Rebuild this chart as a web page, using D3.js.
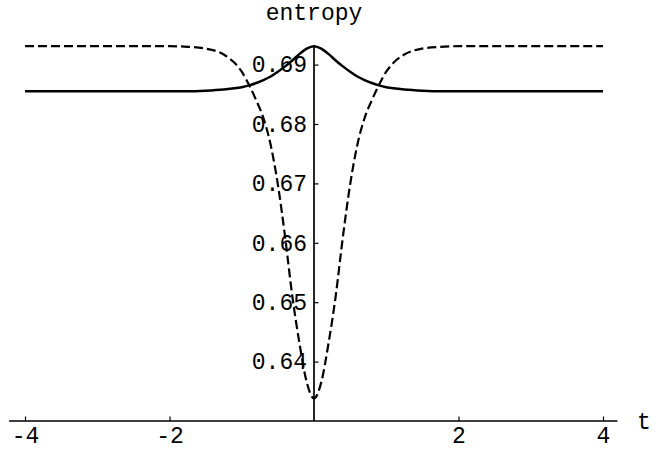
<!DOCTYPE html>
<meta charset="utf-8">
<style>
  body { margin: 0; background: #fff; }
  text { font-family: "Liberation Mono", "DejaVu Sans Mono", monospace; fill: #000; }
</style>
<body>
<script src="https://cdn.jsdelivr.net/npm/d3@7"></script>
<script>

    var width = 665,
        height = 451;

    // values
    var tValues = [-4, -3, -2.5, -2, -1.75, -1.5, -1.25, -1.1, -1, -0.9, -0.8, -0.7, -0.6, -0.5, -0.4, -0.3, -0.2, -0.1, 0,
                   0.1, 0.2, 0.3, 0.4, 0.5, 0.6, 0.7, 0.8, 0.9, 1, 1.1, 1.25, 1.5, 1.75, 2, 2.5, 3, 4];
    var solidValues = [0.6855, 0.6855, 0.6855, 0.6855, 0.6855, 0.6856, 0.6858, 0.6860, 0.6862, 0.6865, 0.6869, 0.6874, 0.6880, 0.6888, 0.6897, 0.6907, 0.6918, 0.6927, 0.6931,
                       0.6927, 0.6918, 0.6907, 0.6897, 0.6888, 0.6880, 0.6874, 0.6869, 0.6865, 0.6862, 0.6860, 0.6858, 0.6856, 0.6855, 0.6855, 0.6855, 0.6855, 0.6855];
    var dashedValues = [0.6931, 0.6931, 0.6931, 0.6931, 0.6930, 0.6927, 0.6917, 0.6903, 0.6888, 0.6866, 0.6840, 0.6810, 0.6765, 0.6698, 0.6610, 0.6510, 0.6430, 0.6365, 0.6338,
                        0.6365, 0.6430, 0.6510, 0.6610, 0.6698, 0.6765, 0.6810, 0.6840, 0.6866, 0.6888, 0.6903, 0.6917, 0.6927, 0.6930, 0.6931, 0.6931, 0.6931, 0.6931];

    var xMajor = [-4, -2, 2, 4];
    var xMinor = [-3.5, -3, -2.5, -1.5, -1, -0.5, 0.5, 1, 1.5, 2.5, 3, 3.5];
    var yMajor = [0.64, 0.65, 0.66, 0.67, 0.68, 0.69];
    var yMinor = [0.632, 0.634, 0.636, 0.638, 0.642, 0.644, 0.646, 0.648, 0.652, 0.654, 0.656, 0.658,
                  0.662, 0.664, 0.666, 0.668, 0.672, 0.674, 0.676, 0.678, 0.682, 0.684, 0.686, 0.688, 0.692];

    var x = d3.scaleLinear().domain([-4, 4]).range([25, 603]);
    var y = d3.scaleLinear().domain([0.63, 0.69]).range([421, 64.6]);

    var svg = d3.select("body").append("svg")
            .attr("width", width)
            .attr("height", height);

    // x axis
    var xg = svg.append("g").attr("transform", "translate(0," + y(0.63) + ")");
    xg.call(d3.axisBottom(x).tickValues(xMinor).tickSizeInner(-2.5).tickSizeOuter(0).tickFormat(""));
    xg.call(d3.axisBottom(x).tickValues(xMajor).tickSizeInner(-4.5).tickSizeOuter(0).tickPadding(6)
            .tickFormat(function(d) { return String(d); }));
    xg.selectAll(".domain").remove();
    xg.selectAll("line").attr("stroke", "#000").attr("stroke-width", 1.2);
    xg.selectAll("text").attr("font-size", 23).attr("font-family", null);
    xg.append("line")
        .attr("x1", x(-4.22)).attr("x2", x(4.2))
        .attr("stroke", "#000").attr("stroke-width", 1.7);

    // y axis
    var yg = svg.append("g").attr("transform", "translate(" + x(0) + ",0)");
    yg.call(d3.axisLeft(y).tickValues(yMinor).tickSizeInner(-2.5).tickSizeOuter(0).tickFormat(""));
    yg.call(d3.axisLeft(y).tickValues(yMajor).tickSizeInner(-4.5).tickSizeOuter(0).tickPadding(7)
            .tickFormat(d3.format(".2f")));
    yg.selectAll(".domain").remove();
    yg.selectAll("line").attr("stroke", "#000").attr("stroke-width", 1.2);
    yg.selectAll("text").attr("font-size", 23).attr("font-family", null);
    yg.append("line")
        .attr("y1", y(0.63)).attr("y2", y(0.6932))
        .attr("stroke", "#000").attr("stroke-width", 1.7);

    var line = d3.line()
            .x(function(d, i) { return x(tValues[i]); })
            .y(function(d) { return y(d); })
            .curve(d3.curveMonotoneX);

    svg.append("path")
        .attr("d", line(dashedValues))
        .attr("fill", "none")
        .attr("stroke", "#000")
        .attr("stroke-width", 2.2)
        .attr("stroke-dasharray", "9,4");

    svg.append("path")
        .attr("d", line(solidValues))
        .attr("fill", "none")
        .attr("stroke", "#000")
        .attr("stroke-width", 2.5);

    svg.append("text")
        .attr("x", x(0))
        .attr("y", 20)
        .attr("text-anchor", "middle")
        .attr("font-size", 23)
        .text("entropy");

    svg.append("text")
        .attr("x", 637)
        .attr("y", 429)
        .attr("font-size", 23)
        .text("t");

</script>
